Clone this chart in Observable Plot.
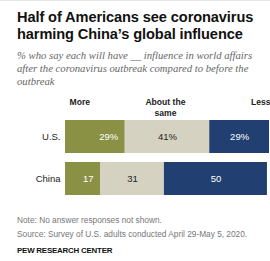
<!DOCTYPE html>
<html><head><meta charset="utf-8">
<script src="https://cdn.jsdelivr.net/npm/d3@7"></script>
<script src="https://cdn.jsdelivr.net/npm/@observablehq/plot@0.6"></script>
<style>
html,body{margin:0;padding:0;background:#fff;}
body{width:270px;height:261px;position:relative;overflow:hidden;font-family:"Liberation Sans",Arial,sans-serif;}
#topline{position:absolute;left:0;top:0;width:270px;height:1px;background:#e6e6e6;}
#title{position:absolute;left:17px;top:9px;width:265px;font-weight:bold;font-size:14.6px;line-height:17px;color:#111;letter-spacing:-0.1px;white-space:nowrap;}
#sub{position:absolute;left:17px;top:49px;width:265px;font-family:"Liberation Serif",serif;font-style:italic;font-size:10.7px;line-height:13px;color:#666;white-space:nowrap;}
#chart{position:absolute;left:0;top:90px;}
#note{position:absolute;left:17px;top:214px;font-size:8.3px;line-height:13.5px;color:#777;white-space:nowrap;}
#pew{position:absolute;left:17px;top:246px;font-size:7.9px;font-weight:bold;color:#111;letter-spacing:-0.2px;white-space:nowrap;}
</style></head>
<body>
<div id="topline"></div>
<div id="title">Half of Americans see coronavirus<br>harming China’s global influence</div>
<div id="sub">% who say each will have __ influence in world affairs<br>after the coronavirus outbreak compared to before the<br>outbreak</div>
<div id="chart"></div>
<div id="note">Note: No answer responses not shown.<br>Source: Survey of U.S. adults conducted April 29-May 5, 2020.</div>
<div id="pew">PEW RESEARCH CENTER</div>
<script>
const categories = ["U.S.", "China"];
const series = ["More", "About the same", "Less"];
const more = [29, 17];
const same = [41, 31];
const less = [29, 50];
const labelsUS = ["29%", "41%", "29%"];
const colors = ["#8a9145", "#d6d2c2", "#213f70"];

const data = [];
categories.forEach((c, i) => {
  [more[i], same[i], less[i]].forEach((v, j) => {
    data.push({country: c, response: series[j], value: v,
      label: i === 0 ? labelsUS[j] : String(v)});
  });
});

const stack = {x: "value", y: "country", z: "response", order: series};

const chart = Plot.plot({
  width: 270,
  height: 110,
  marginLeft: 65,
  marginRight: 1,
  marginTop: 0,
  marginBottom: 0,
  x: {domain: [0, 99], axis: null},
  y: {domain: categories, range: [29.5, 105], paddingInner: 0.22, paddingOuter: 0, label: null, tickSize: 0},
  color: {domain: series, range: colors},
  style: {fontFamily: "Liberation Sans, Arial, sans-serif"},
  marks: [
    Plot.axisY({tickSize: 0, tickPadding: 5, fontSize: 9.5, fill: "#222", label: null}),
    Plot.barX(data, Plot.stackX({...stack, fill: "response"})),
    Plot.text(data, Plot.stackX2({...stack, text: d => d.response === "More" ? d.label : "", textAnchor: "end", dx: -7, fontSize: 9.5, fill: "white"})),
    Plot.text(data, Plot.stackX({...stack, text: d => d.response === "More" ? "" : d.label, fontSize: 9.5,
      fill: d => d.response === "Less" ? "white" : "#222"})),
    Plot.text(["More"], {x: 0, frameAnchor: "top", dy: 8, dx: 4, text: d => d, textAnchor: "start", fontWeight: "bold", fontSize: 8.6, fill: "#222"}),
    Plot.text(["About the\nsame"], {x: 48.5, frameAnchor: "top", dy: 6, text: d => d, lineHeight: 1.35, fontWeight: "bold", fontSize: 8.6, fill: "#222"}),
    Plot.text(["Less"], {x: 99, frameAnchor: "top", dy: 8, dx: 1, text: d => d, textAnchor: "end", fontWeight: "bold", fontSize: 8.6, fill: "#222"})
  ]
});
document.getElementById("chart").appendChild(chart);
</script>
</body></html>
